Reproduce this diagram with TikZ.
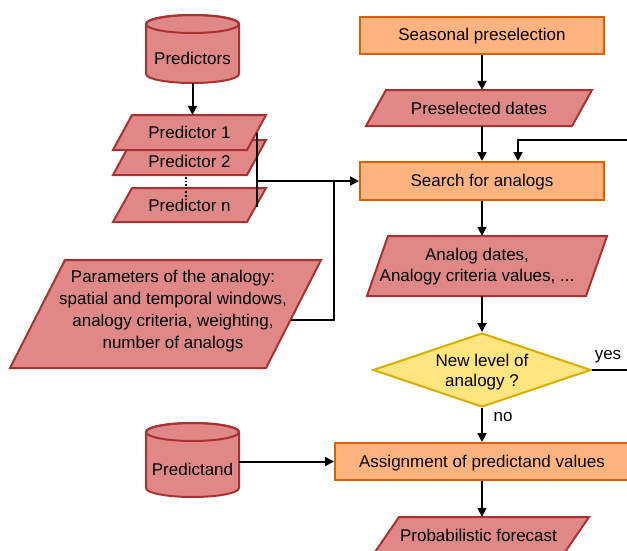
\documentclass[tikz,border=0pt]{standalone}
\usepackage{fontspec}
\setmainfont{Liberation Sans}
\usetikzlibrary{shapes.geometric,arrows.meta,calc}
\definecolor{redfill}{HTML}{E08888}
\definecolor{reddraw}{HTML}{A83232}
\definecolor{orangefill}{HTML}{FFB37F}
\definecolor{orangedraw}{HTML}{DD6000}
\definecolor{yellowfill}{HTML}{FFE57F}
\definecolor{yellowdraw}{HTML}{D6B000}
% #1 name, #2 cx, #3 cy, #4 total width, #5 height, #6 skew, #7 text
\newcommand{\drawpara}[7]{%
  \draw[parashape] ({#2-#4/2},{#3+#5/2}) -- ({#2-#4/2+#6},{#3-#5/2})
    -- ({#2+#4/2},{#3-#5/2}) -- ({#2+#4/2-#6},{#3+#5/2}) -- cycle;
  \node[ghost, minimum width=#4, minimum height=#5, align=center] (#1) at (#2,#3) {#7};}
\begin{document}
\begin{tikzpicture}[x=1pt,y=-1pt,
  every node/.style={font=\fontsize{17}{21}\selectfont, text=black},
  parashape/.style={draw=reddraw, fill=redfill, line width=2pt, line join=miter},
  box/.style={rectangle, draw=orangedraw, fill=orangefill, line width=2pt,
    inner sep=0pt, minimum width=244, minimum height=37, text height=12.4pt, text depth=0.6pt},
  cylfill/.style={draw=reddraw, fill=redfill, line width=2pt},
  ghost/.style={rectangle, draw=none, inner sep=0pt},
  arr/.style={-{Triangle[length=9pt,width=9pt]}, line width=2pt},
  conn/.style={line width=2pt}
]
\useasboundingbox (0,0) rectangle (627,550);
\clip (0,0) rectangle (627,550);

% Predictors cylinder
\path[cylfill] (146,24) -- (146,74) arc[start angle=180, end angle=0, x radius=46.5, y radius=9]
  -- (239,24) arc[start angle=0, end angle=-180, x radius=46.5, y radius=9] -- cycle;
\draw[reddraw, line width=2pt] (192.5,24) ellipse[x radius=46.5, y radius=9];
\node[ghost, minimum width=93, minimum height=68] (predictors) at (192.5,49) {};
\node (predictorslbl) at (192.5,58) {Predictors};

% Predictand cylinder
\path[cylfill] (146,432) -- (146,488) arc[start angle=180, end angle=0, x radius=46.5, y radius=9]
  -- (239,432) arc[start angle=0, end angle=-180, x radius=46.5, y radius=9] -- cycle;
\draw[reddraw, line width=2pt] (192.5,432) ellipse[x radius=46.5, y radius=9];
\node[ghost, minimum width=93, minimum height=74] (predictand) at (192.5,460) {};
\node (predictandlbl) at (192.5,469) {Predictand};

% Predictor parallelograms
\drawpara{p2}{189.5}{157.5}{153}{35}{19}{}
\node (p2lbl) at (189.5,161) {Predictor 2};
\drawpara{p1}{189.5}{132.5}{153}{35}{19}{Predictor 1}
\drawpara{pn}{189.5}{205}{153}{34}{19}{Predictor n}
\draw[line width=1.6pt, dotted] (186,177) -- (186,197);

% Parameters
\drawpara{params}{165.5}{314}{311}{108}{55}{}
\node[align=center, font=\fontsize{17}{22}\selectfont] (paramslbl) at (173,311)
  {Parameters of the analogy:\\spatial and temporal windows,\\analogy criteria, weighting,\\number of analogs};

% Right column
\node[box] (seasonal) at (482,35) {Seasonal preselection};
\drawpara{presel}{479}{108}{226}{36}{20}{Preselected dates}
\node[box, minimum height=38] (search) at (482,181) {Search for analogs};
\drawpara{analog}{487}{266}{240}{60}{21}{}
\node[align=center] (analoglbl) at (477,266.5) {Analog dates,\\Analogy criteria values, ...};
\node[diamond, aspect=2.95, draw=yellowdraw, fill=yellowfill, line width=2pt,
  inner sep=1pt, minimum width=218, minimum height=74] (decide) at (482,370) {\strut};
\node[align=center, font=\fontsize{17}{20}\selectfont] (decidelbl) at (482,372) {New level of\\analogy ?};
\node[box, minimum width=294] (assign) at (482,461.5) {Assignment of predictand values};
\drawpara{prob}{481}{536}{216}{38}{26}{}
\node (problbl) at (478.5,535) {Probabilistic forecast};

% Connectors
\draw[arr] (predictors.south) -- (predictors.south |- p1.north);
\coordinate (b1) at ($(p1.east)+(-9.5,0)$);
\coordinate (b2) at ($(pn.east)+(-9.5,2)$);
\draw[conn] (b1) -- (b2);
\draw[arr] (b1 |- search.west) -- (search.west);
\coordinate (pc) at ($(params.east)+(-30.5,6)$);
\coordinate (jn) at (334,181);
\draw[conn] (pc) -| (jn);
\draw[arr] (seasonal.south) -- (seasonal.south |- presel.north);
\draw[arr] (search.south |- presel.south) -- (search.north);
\draw[arr] (search.south) -- (search.south |- analog.north);
\draw[arr] (search.south |- analog.south) -- (decide.north);
\draw[arr] (decide.south) -- (assign.north);
\node (no) at (503,417) {no};
\coordinate (loopc) at (645,140);
\draw[arr] (decide.east) -| (loopc) -| ([xshift=36pt]search.north);
\node (yes) at (608,357) {yes};
\draw[arr] (assign.south) -- (assign.south |- prob.north);
\draw[arr] (assign.west -| predictand.east) -- (assign.west);
\end{tikzpicture}
\end{document}
